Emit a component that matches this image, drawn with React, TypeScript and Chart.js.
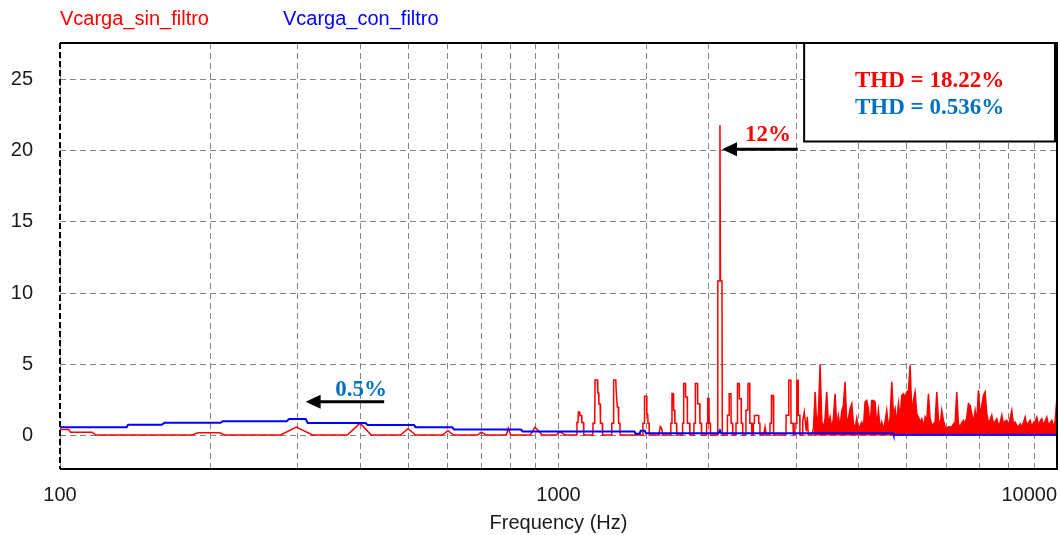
import React, { useEffect, useRef } from 'react';
import { Chart, registerables } from 'chart.js';

Chart.register(...registerables);

// ---- data ----
const seriesNames = ['Vcarga_sin_filtro', 'Vcarga_con_filtro'];
const xTickLabels = [100, 1000, 10000];
const xTitle = 'Frequency (Hz)';
const thdLabels = ['THD = 18.22%', 'THD = 0.536%'];
const peakLabels = ['12%', '0.5%'];

// [frequency Hz, amplitude]
const sinFiltro: [number, number][] = [
  [100, 0.42], [104, 0.42], [105, 0.23], [116, 0.23], [118, 0.03], [184, 0.03], [189, 0.19], [209, 0.19], [214, 0.03],
  [277, 0.03], [298, 0.58], [321, 0.03], [377, 0.03], [400, 0.86], [421, 0.03], [482, 0.03], [499, 0.47], [517, 0.03],
  [585, 0.03], [600, 0.33], [616, 0.03], [688, 0.03], [700, 0.23], [716, 0.03], [786, 0.03], [793, 0.5], [802, 0.03],
  [878, 0.03], [897, 0.58], [928, 0.03], [990, 0.03], [1000, 0.2], [1015, 0.2], [1030, 0.03],
  [1088, 0.03], [1089, 0.9], [1094, 0.9], [1096, 1.64], [1102, 1.64], [1104, 1.4], [1112, 1.4], [1114, 0.9], [1122, 0.9], [1124, 0.03],
  [1172, 0.03], [1173, 0.85], [1182, 0.85], [1184, 3.9], [1197, 3.9], [1199, 3.0], [1203, 3.0], [1205, 2.2], [1212, 2.2], [1214, 0.85], [1224, 0.85], [1226, 0.03],
  [1277, 0.03], [1279, 0.85], [1288, 0.85], [1290, 3.9], [1303, 3.9], [1305, 3.2], [1310, 3.2], [1312, 2.0], [1318, 2.0], [1320, 0.85], [1328, 0.85], [1330, 0.03],
  [1475, 0.03], [1477, 0.85], [1486, 0.85], [1488, 2.75], [1502, 2.75], [1504, 1.5], [1510, 1.5], [1512, 0.85], [1519, 0.85], [1521, 0.03],
  [1590, 0.03], [1600, 0.63], [1610, 0.5], [1620, 0.03],
  [1678, 0.03], [1680, 0.85], [1687, 0.85], [1689, 2.95], [1700, 2.95], [1702, 1.76], [1710, 1.76], [1712, 0.85], [1724, 0.85], [1727, 0.03],
  [1772, 0.03], [1774, 0.85], [1781, 0.85], [1783, 3.65], [1797, 3.65], [1799, 2.7], [1812, 2.7], [1814, 0.85], [1832, 0.85], [1835, 0.03],
  [1868, 0.03], [1870, 0.85], [1880, 0.85], [1882, 3.65], [1900, 3.65], [1902, 2.23], [1920, 2.23], [1922, 0.85], [1934, 0.85], [1937, 0.03],
  [1980, 0.03], [1982, 0.85], [1990, 0.85], [1992, 2.6], [2004, 2.6], [2006, 0.85], [2016, 0.85], [2018, 0.03],
  [2084, 0.03], [2087, 10.85], [2103, 10.85], [2108, 21.8], [2113, 10.85], [2128, 10.85], [2131, 0.03],
  [2180, 0.03], [2182, 1.41], [2198, 1.41], [2200, 2.93], [2218, 2.93], [2220, 0.85], [2234, 0.85], [2237, 0.03],
  [2268, 0.03], [2270, 0.85], [2284, 0.85], [2286, 3.65], [2304, 3.65], [2306, 2.58], [2325, 2.58], [2327, 0.85], [2340, 0.85], [2342, 0.03],
  [2375, 0.03], [2377, 1.76], [2398, 1.76], [2400, 3.65], [2418, 3.65], [2420, 0.85], [2440, 0.85], [2443, 0.03],
  [2458, 0.03], [2460, 0.85], [2470, 0.85], [2472, 1.4], [2520, 1.4], [2522, 0.85], [2535, 0.85], [2537, 0.03],
  [2580, 0.03], [2596, 0.6], [2612, 0.03],
  [2655, 0.03], [2657, 0.85], [2672, 0.85], [2674, 2.8], [2695, 2.8], [2697, 0.85], [2703, 0.85], [2705, 0.03],
  [2860, 0.03], [2862, 1.41], [2895, 1.41], [2897, 3.87], [2925, 3.87], [2927, 0.85], [2955, 0.85], [2958, 0.03],
  [2980, 0.03], [2982, 0.85], [3005, 0.85], [3007, 3.87], [3025, 3.87], [3027, 1.41], [3048, 1.41], [3050, 0.03],
  [3085, 0.03], [3090, 1.0], [3112, 1.64], [3130, 0.8], [3140, 0.3], [3156, 1.3], [3170, 0.03], [3220, 0.03],
  [3247, 0.5], [3272, 3.05], [3297, 0.6], [3322, 1.6], [3348, 5.0], [3374, 1.0], [3400, 0.5], [3426, 1.2],
  [3452, 3.05], [3479, 0.8], [3506, 1.3], [3533, 0.5], [3560, 1.2], [3588, 2.93], [3615, 0.7], [3643, 1.4],
  [3671, 0.6], [3700, 1.7], [3728, 2.11], [3757, 3.76], [3786, 0.9], [3815, 1.2],
  [3845, 1.88], [3875, 2.23], [3905, 0.82], [3935, 0.5], [3965, 1.2], [3996, 0.4], [4027, 0.7], [4058, 0.94],
  [4089, 0.5], [4121, 2.35], [4153, 2.46], [4185, 1.88], [4217, 0.6], [4250, 2.46], [4283, 2.46], [4316, 2.35],
  [4349, 0.7], [4383, 1.76], [4417, 0.5], [4451, 0.94], [4485, 0.4], [4520, 1.0], [4555, 1.76], [4590, 0.6],
  [4626, 1.2], [4662, 3.76], [4698, 1.4], [4734, 1.88], [4771, 0.9], [4808, 2.23], [4845, 1.29], [4882, 2.82],
  [4920, 2.93], [4958, 2.7], [4996, 3.05], [5035, 3.17], [5074, 4.93], [5113, 1.6], [5152, 2.46], [5192, 3.05],
  [5232, 1.53], [5273, 1.29], [5314, 0.94], [5355, 1.17], [5396, 0.6], [5438, 1.29], [5480, 1.0], [5522, 2.93],
  [5565, 1.2], [5608, 0.7], [5651, 0.82], [5695, 0.94], [5739, 3.05], [5783, 1.1], [5828, 0.7], [5873, 1.76],
  [5918, 1.06], [5964, 0.6], [6010, 0.5], [6056, 0.6], [6103, 0.59], [6150, 0.6], [6198, 0.8], [6246, 0.94],
  [6294, 3.05], [6343, 0.8], [6392, 0.6], [6441, 0.9], [6491, 1.06], [6541, 0.82], [6592, 1.29], [6643, 2.23],
  [6694, 2.11], [6746, 1.53], [6798, 0.9], [6851, 1.76], [6904, 1.0], [6957, 3.17], [7011, 1.3], [7065, 2.11],
  [7120, 2.82], [7175, 3.05], [7230, 1.53], [7286, 0.9], [7342, 1.1], [7399, 1.41], [7456, 0.8], [7514, 1.0],
  [7572, 1.17], [7630, 0.7], [7689, 0.9], [7749, 1.41], [7809, 0.8], [7869, 1.0], [7930, 1.06], [7991, 0.7],
  [8053, 1.2], [8115, 1.76], [8178, 0.8], [8241, 0.94], [8305, 0.7], [8369, 0.6], [8434, 0.82], [8499, 0.6],
  [8565, 0.9], [8631, 1.29], [8698, 0.7], [8765, 0.9], [8833, 1.06], [8901, 0.6], [8970, 0.9], [9039, 1.0],
  [9109, 1.29], [9180, 0.7], [9251, 1.0], [9322, 1.17], [9394, 0.7], [9467, 1.0], [9540, 1.29], [9614, 0.7],
  [9688, 0.9], [9763, 1.06], [9839, 0.6], [9915, 1.0], [9992, 2.58], [10000, 0.9],
];

const conFiltro: [number, number][] = [
  [100, 0.58], [136, 0.58], [137, 0.75], [160, 0.75], [162, 0.89], [210, 0.89], [212, 1.0], [285, 1.0],
  [288, 1.15], [311, 1.15], [314, 0.87], [410, 0.87], [414, 0.73], [513, 0.73], [517, 0.58], [612, 0.58],
  [617, 0.42], [840, 0.42], [848, 0.28], [1420, 0.28], [1428, 0.12], [1455, 0.12], [1462, 0.33], [1490, 0.33],
  [1497, 0.16], [2095, 0.16], [2108, 0.35], [2120, 0.16], [4690, 0.16], [4700, 0.05], [10000, 0.05],
];

const RED = '#ff0000';
const BLUE = '#0000ff';
const NOTE_BLUE = '#0070c0';
const SANS = '"Liberation Sans", Arial, sans-serif';
const SERIF = '"Liberation Serif", "Times New Roman", serif';

const overlay = {
  id: 'overlay',
  afterDatasetsDraw(chart: any) {
    const { ctx, chartArea: a, scales } = chart;
    const xs = scales.x;
    const ys = scales.y;
    ctx.save();
    // frame
    ctx.strokeStyle = '#000';
    ctx.lineWidth = 2;
    ctx.setLineDash([]);
    ctx.beginPath();
    ctx.moveTo(a.left, a.top);
    ctx.lineTo(a.right, a.top);
    ctx.lineTo(a.right, a.bottom);
    ctx.lineTo(a.left, a.bottom);
    ctx.stroke();
    ctx.setLineDash([6, 3]);
    ctx.beginPath();
    ctx.moveTo(a.left, a.top);
    ctx.lineTo(a.left, a.bottom);
    ctx.stroke();
    ctx.setLineDash([]);

    // THD box
    const bl = xs.getPixelForValue(3110);
    const br = a.right - 2;
    const bt = a.top;
    const bb = ys.getPixelForValue(20.65);
    ctx.fillStyle = '#fff';
    ctx.fillRect(bl, bt, br - bl, bb - bt);
    ctx.lineWidth = 2;
    ctx.strokeStyle = '#000';
    ctx.strokeRect(bl, bt, br - bl, bb - bt);
    ctx.font = `bold 23px ${SERIF}`;
    ctx.textAlign = 'center';
    ctx.textBaseline = 'middle';
    ctx.fillStyle = RED;
    ctx.fillText(thdLabels[0], (bl + br) / 2, bt + 38);
    ctx.fillStyle = NOTE_BLUE;
    ctx.fillText(thdLabels[1], (bl + br) / 2, bt + 65);

    // arrows
    const arrow = (x0: number, x1: number, y: number) => {
      ctx.strokeStyle = '#000';
      ctx.fillStyle = '#000';
      ctx.lineWidth = 3;
      ctx.beginPath();
      ctx.moveTo(x0, y);
      ctx.lineTo(x1 + 12, y);
      ctx.stroke();
      ctx.beginPath();
      ctx.moveTo(x1, y);
      ctx.lineTo(x1 + 15, y - 7);
      ctx.lineTo(x1 + 15, y + 7);
      ctx.closePath();
      ctx.fill();
    };
    arrow(xs.getPixelForValue(3020), xs.getPixelForValue(2128), ys.getPixelForValue(20.1));
    arrow(xs.getPixelForValue(447), xs.getPixelForValue(311), ys.getPixelForValue(2.36));

    ctx.font = `bold 23px ${SERIF}`;
    ctx.textAlign = 'center';
    ctx.textBaseline = 'middle';
    ctx.fillStyle = RED;
    ctx.fillText(peakLabels[0], xs.getPixelForValue(2633), ys.getPixelForValue(21.13));
    ctx.fillStyle = NOTE_BLUE;
    ctx.fillText(peakLabels[1], xs.getPixelForValue(402), ys.getPixelForValue(3.17));

    // legend
    ctx.font = `20px ${SANS}`;
    ctx.textAlign = 'left';
    ctx.textBaseline = 'middle';
    ctx.fillStyle = RED;
    ctx.fillText(seriesNames[0], a.left, 19);
    ctx.fillStyle = BLUE;
    ctx.fillText(seriesNames[1], a.left + 223, 19);

    // x tick labels
    ctx.fillStyle = '#1a1a1a';
    xTickLabels.forEach((v, i) => {
      const px = xs.getPixelForValue(v);
      const last = i === xTickLabels.length - 1;
      ctx.textAlign = last ? 'right' : 'center';
      ctx.fillText(String(v), last ? a.right : px, a.bottom + 26);
    });
    ctx.textAlign = 'center';
    ctx.fillText(xTitle, (a.left + a.right) / 2, a.bottom + 54);
    ctx.restore();
  },
};

export default function App() {
  const ref = useRef<HTMLCanvasElement | null>(null);
  useEffect(() => {
    if (!ref.current) return;
    const chart = new Chart(ref.current, {
      type: 'line',
      data: {
        datasets: [
          {
            label: seriesNames[1],
            data: conFiltro.map(([x, y]) => ({ x, y })),
            borderColor: BLUE,
            borderWidth: 2,
            pointRadius: 0,
            fill: false,
            tension: 0,
            order: 0,
          },
          {
            label: seriesNames[0],
            data: sinFiltro.map(([x, y]) => ({ x, y })),
            borderColor: RED,
            backgroundColor: 'rgba(0,0,0,0)',
            borderWidth: 1.5,
            pointRadius: 0,
            tension: 0,
            fill: 'origin',
            segment: {
              backgroundColor: (c: any) => (c.p0.parsed.x >= 3240 ? RED : 'rgba(0,0,0,0)'),
            },
            order: 1,
          },
        ] as any,
      },
      options: {
        responsive: false,
        animation: false,
        layout: { padding: { top: 43, right: 3, left: 0, bottom: 0 } },
        plugins: { legend: { display: false }, tooltip: { enabled: false } },
        scales: {
          x: {
            type: 'logarithmic',
            min: 100,
            max: 10000,
            afterFit: (s: any) => { s.height = 66; },
            ticks: { display: false },
            grid: { color: '#858585', lineWidth: 1, drawTicks: false },
            border: { display: false, dash: [6, 4] },
          },
          y: {
            min: -2.36,
            max: 27.57,
            afterFit: (s: any) => { s.width = 60; },
            ticks: {
              stepSize: 5,
              includeBounds: false,
              padding: 27,
              color: '#1a1a1a',
              font: { family: SANS, size: 20 },
            },
            grid: { color: '#858585', lineWidth: 1, drawTicks: false },
            border: { display: false, dash: [6, 4] },
          },
        } as any,
      },
      plugins: [overlay],
    });
    return () => chart.destroy();
  }, []);
  return (
    <div style={{ position: 'absolute', left: 0, top: 0, width: 1060, height: 535, background: '#fff' }}>
      <canvas ref={ref} width={1060} height={535} style={{ display: 'block' }} />
    </div>
  );
}
